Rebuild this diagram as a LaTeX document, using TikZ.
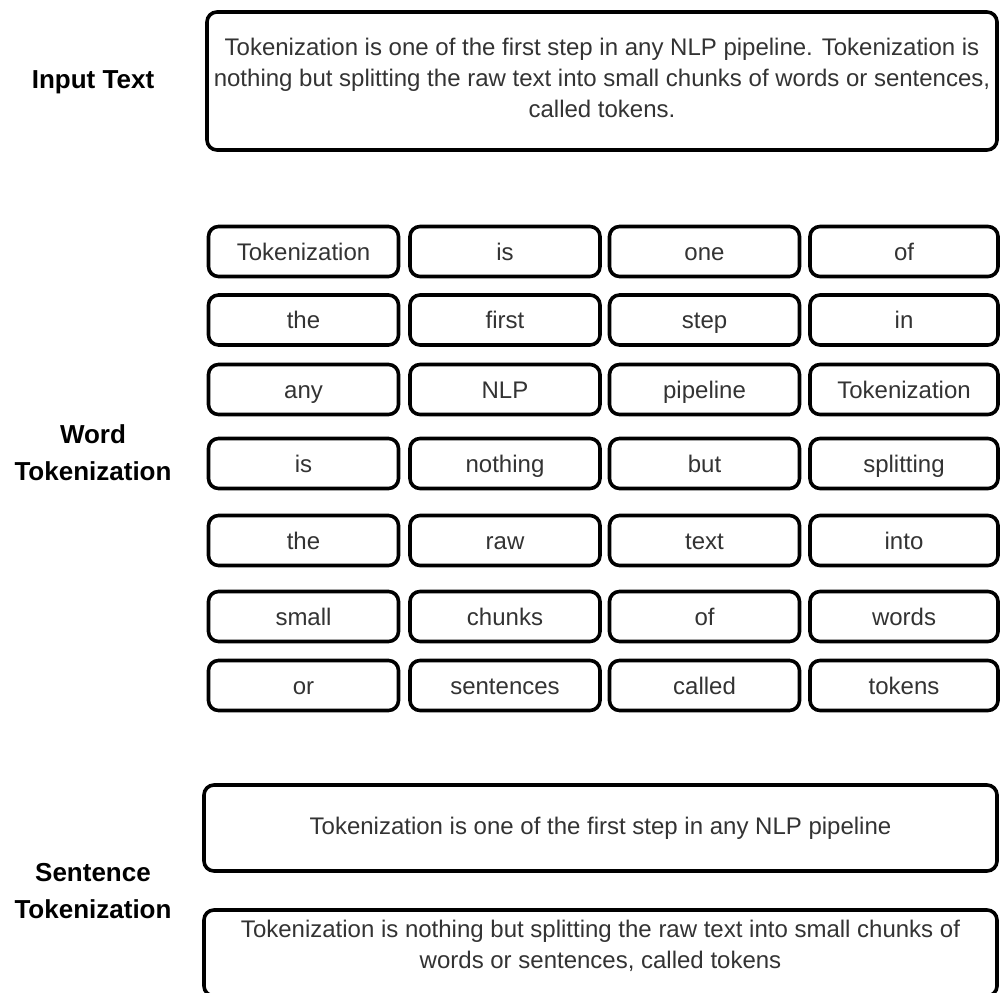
\documentclass[tikz,border=0pt]{standalone}
\usepackage{fontspec}
\setmainfont{Liberation Sans}
\begin{document}
\begin{tikzpicture}[x=1pt,y=-1pt,
  tok/.style={draw=black, line width=3.6pt, rounded corners=10pt, fill=white,
    minimum width=190pt, minimum height=50pt, inner sep=0pt,
    text height=19.5pt, text depth=2.5pt,
    text=black!80, font=\fontsize{24}{29}\selectfont},
  big/.style={draw=black, line width=3.6pt, rounded corners=10pt, fill=white,
    inner sep=0pt, align=center,
    text=black!80, font=\fontsize{24}{30}\selectfont},
  txt/.style={inner sep=0pt, align=center,
    text=black!80, font=\fontsize{24}{31}\selectfont},
  lab/.style={align=center, text=black, font=\fontsize{26}{37}\selectfont\bfseries}]
\useasboundingbox (0,0) rectangle (1000,992);
\clip (0,0) rectangle (1000,992);
\fill[white] (0,0) rectangle (1000,992);

% labels
\node[lab] (linput) at (93,82) {Input Text};
\node[lab] (lword) at (93,453) {Word\\Tokenization};
\node[lab] (lsent) at (93,891) {Sentence\\Tokenization};

% input text box
\node[big, minimum width=790pt, minimum height=138pt] (input) at (602,81) {};
\node[txt] (inputtext) at (602,78)
  {Tokenization is one of the first step in any NLP pipeline. Tokenization is\\
   nothing but splitting the raw text into small chunks of words or sentences,\\
   called tokens.};

% word tokens
\def\colA{303.5}\def\colB{505}\def\colC{704.5}\def\colD{904}
\foreach \r/\y/\a/\b/\c/\d in {
  1/251.5/Tokenization/is/one/of,
  2/320/the/first/step/in,
  3/389.5/any/NLP/pipeline/Tokenization,
  4/463.5/is/nothing/but/splitting,
  5/540.5/the/raw/text/into,
  6/616.5/small/chunks/of/words,
  7/685.5/or/sentences/called/tokens}{
  \node[tok] (w\r a) at (\colA,\y) {\a};
  \node[tok] (w\r b) at (\colB,\y) {\b};
  \node[tok] (w\r c) at (\colC,\y) {\c};
  \node[tok, minimum width=188pt] (w\r d) at (\colD,\y) {\d};
}

% sentence boxes
\node[big, minimum width=793pt, minimum height=86pt] (s1) at (600.5,828)
  {Tokenization is one of the first step in any NLP pipeline};
\node[big, minimum width=793pt, minimum height=86pt] (s2) at (600.5,953) {};
\node[txt] (s2text) at (600.5,946)
  {Tokenization is nothing but splitting the raw text into small chunks of\\
   words or sentences, called tokens};
\end{tikzpicture}
\end{document}
